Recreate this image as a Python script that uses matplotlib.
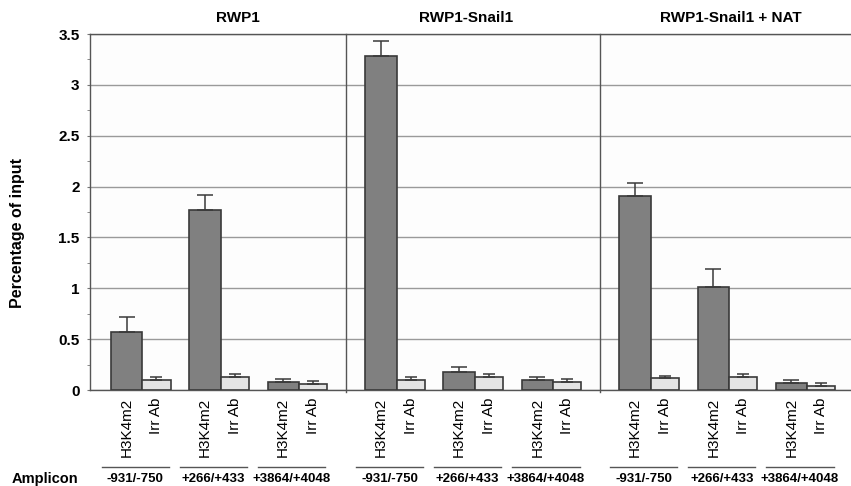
import matplotlib
matplotlib.use("Agg")
import matplotlib.pyplot as plt
import matplotlib.transforms as mtransforms
from matplotlib.ticker import MultipleLocator
import numpy as np

# ---- data ----
panels = ["RWP1", "RWP1-Snail1", "RWP1-Snail1 + NAT"]
amplicons = ["-931/-750", "+266/+433", "+3864/+4048"]
series = ["H3K4m2", "Irr Ab"]
h3k4m2 = [0.57, 1.77, 0.08, 3.28, 0.18, 0.10, 1.91, 1.01, 0.07]
h3k4m2_err = [0.15, 0.15, 0.025, 0.15, 0.046, 0.028, 0.13, 0.18, 0.025]
irrab = [0.10, 0.13, 0.06, 0.10, 0.13, 0.075, 0.12, 0.13, 0.04]
irrab_err = [0.03, 0.027, 0.03, 0.03, 0.025, 0.03, 0.02, 0.03, 0.03]
yticks = [0, 0.5, 1, 1.5, 2, 2.5, 3, 3.5]
ylabel = "Percentage of input"
row_label = "Amplicon"

plt.rcParams['font.family'] = ['Liberation Sans', 'DejaVu Sans']
W, H = 851, 486
fig = plt.figure(figsize=(W / 100, H / 100), dpi=100)

ax_left, ax_right, ax_top, ax_bottom = 90, 851, 34, 390
ax = fig.add_axes([ax_left / W, 1 - ax_bottom / H, (ax_right - ax_left) / W, (ax_bottom - ax_top) / H])
ax.set_facecolor('#fdfdfd')

n_per_panel = len(amplicons)
panel_gap = 0.25
wH, wI = 0.40, 0.36
lefts = np.array([g + panel_gap * (g // n_per_panel) for g in range(len(h3k4m2))], dtype=float)
xH = lefts + wH / 2
xI = lefts + wH + wI / 2
gcent = lefts + (wH + wI) / 2

edge = '#3a3a3a'
ax.set_axisbelow(True)
ax.yaxis.grid(True, color='#9a9a9a', linewidth=1.0)
ax.bar(xH, h3k4m2, width=wH, color='#808080', edgecolor=edge, linewidth=1.2, zorder=3)
ax.bar(xI, irrab, width=wI, color='#e4e4e4', edgecolor=edge, linewidth=1.2, zorder=3)
ax.errorbar(xH, h3k4m2, yerr=[np.zeros(len(h3k4m2)), h3k4m2_err], fmt='none',
            ecolor=edge, elinewidth=1.1, capsize=5.5, capthick=1.1, zorder=4)
ax.errorbar(xI, irrab, yerr=[np.zeros(len(irrab)), irrab_err], fmt='none',
            ecolor=edge, elinewidth=1.1, capsize=4.0, capthick=1.1, zorder=4)

xmin = lefts[0] - 0.27
xmax = xmin + (ax_right - ax_left) / 78.2
ax.set_xlim(xmin, xmax)
ax.set_ylim(0, 3.5)

# panel dividers
for p in range(1, len(panels)):
    g = p * n_per_panel
    xd = (lefts[g - 1] + wH + wI + lefts[g]) / 2
    ax.plot([xd, xd], [-0.02, 3.5], color='#555555', linewidth=1.0, clip_on=False, zorder=5)

ax.spines['right'].set_visible(False)
for s in ['left', 'top', 'bottom']:
    ax.spines[s].set_color('#555555')
    ax.spines[s].set_linewidth(1.0)

ax.set_yticks(yticks)
ax.set_yticklabels([f"{v:g}" for v in yticks], fontsize=11, fontweight='bold')
ax.yaxis.set_minor_locator(MultipleLocator(0.25))
ax.tick_params(axis='y', which='both', direction='out', length=2.5, color='#777777', pad=5)

ticks_x = np.concatenate([xH, xI])
ticks_lab = [series[0]] * len(xH) + [series[1]] * len(xI)
ax.set_xticks(ticks_x)
ax.set_xticklabels(ticks_lab, rotation=90, fontsize=11, va='top', ha='center')
ax.tick_params(axis='x', length=0, pad=5.5)

ax.set_ylabel(ylabel, fontsize=11.5, fontweight='bold')
ax.yaxis.set_label_coords(-0.085, 0.44)

# panel titles
title_x = [lefts[0] + 1.62, lefts[0] + 4.54, lefts[0] + 7.92]
tt = mtransforms.blended_transform_factory(ax.transData, fig.transFigure)
for t, x in zip(panels, title_x):
    fig.text(x, 1 - 18 / H, t, transform=tt, ha='center', va='center', fontsize=11, fontweight='bold')

# amplicon row
for g in range(len(h3k4m2)):
    x0 = lefts[g] - 0.12
    x1 = lefts[g] + wH + wI - 0.02
    ax.plot([x0, x1], [1 - 466.7 / H] * 2, transform=tt, color='#555555', linewidth=1.0, clip_on=False)
    fig.text((x0 + x1) / 2, 1 - 478.5 / H, amplicons[g % n_per_panel], transform=tt,
             ha='center', va='center', fontsize=9.5, fontweight='bold')
fig.text(12 / W, 1 - 478.5 / H, row_label, ha='left', va='center', fontsize=10.5, fontweight='bold')

fig.savefig("out.png", dpi=100)
